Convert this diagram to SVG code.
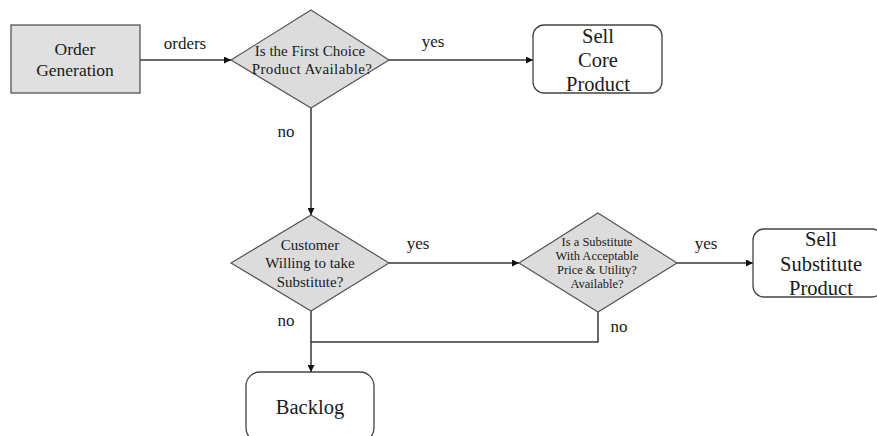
<svg xmlns="http://www.w3.org/2000/svg" width="877" height="436" viewBox="0 0 877 436">
  <style>
    text { fill: #1a1a1a; text-anchor: middle; }
    .box { fill: #e0e0e0; stroke: #555; stroke-width: 1.3; }
    .term { fill: #fff; stroke: #444; stroke-width: 1.3; }
    .dia { fill: #dcdcdc; stroke: #555; stroke-width: 1.2; }
    .edge { fill: none; stroke: #383838; stroke-width: 1.5; }
  </style>
  <defs>
    <marker id="arrow" viewBox="0 0 10 10" refX="10" refY="5" markerWidth="7" markerHeight="7" orient="auto" markerUnits="userSpaceOnUse">
      <path d="M0,0 L10,5 L0,10 z" fill="#111"/>
    </marker>
  </defs>
  <rect width="877" height="436" fill="#fff"/>

  <g id="connectors">
    <line class="edge" x1="140" y1="60" x2="231" y2="60" marker-end="url(#arrow)"/>
    <line class="edge" x1="389" y1="60" x2="533" y2="60" marker-end="url(#arrow)"/>
    <line class="edge" x1="311" y1="108" x2="311" y2="215" marker-end="url(#arrow)"/>
    <line class="edge" x1="389" y1="263" x2="519" y2="263" marker-end="url(#arrow)"/>
    <line class="edge" x1="677" y1="263" x2="753" y2="263" marker-end="url(#arrow)"/>
    <line class="edge" x1="311" y1="311" x2="311" y2="372" marker-end="url(#arrow)"/>
    <polyline class="edge" points="598,312 598,342 311,342"/>
    <text x="185" y="49" font-size="17" font-family="Liberation Serif">orders</text>
    <text x="433" y="47" font-size="17" font-family="Liberation Serif">yes</text>
    <text x="286" y="137" font-size="17" font-family="Liberation Serif">no</text>
    <text x="418" y="249" font-size="17" font-family="Liberation Serif">yes</text>
    <text x="706" y="249" font-size="17" font-family="Liberation Serif">yes</text>
    <text x="286" y="326" font-size="17" font-family="Liberation Serif">no</text>
    <text x="619" y="332" font-size="17" font-family="Liberation Serif">no</text>
  </g>

  <g id="order-generation">
    <rect class="box" x="11" y="25" width="129" height="68"/>
    <text x="75" y="55" font-size="17.5" font-family="Liberation Serif">Order</text>
    <text x="75" y="76" font-size="17.5" font-family="Liberation Serif">Generation</text>
  </g>

  <g id="first-choice">
    <polygon class="dia" points="311,10 389,60 311,108 231,60"/>
    <text x="310" y="56" font-size="15" font-family="Liberation Serif">Is the First Choice</text>
    <text x="312" y="74" font-size="15" font-family="Liberation Serif" letter-spacing="0.4">Product Available?</text>
  </g>

  <g id="sell-core">
    <rect class="term" x="533" y="25" width="129" height="68" rx="11"/>
    <text x="598" y="43" font-size="20.5" font-family="Liberation Serif">Sell</text>
    <text x="598" y="67" font-size="20.5" font-family="Liberation Serif">Core</text>
    <text x="598" y="91" font-size="20.5" font-family="Liberation Serif">Product</text>
  </g>

  <g id="willing-substitute">
    <polygon class="dia" points="311,215 389,263 311,311 231,263"/>
    <text x="310" y="250" font-size="15" font-family="Liberation Serif">Customer</text>
    <text x="310" y="268" font-size="15" font-family="Liberation Serif">Willing to take</text>
    <text x="310" y="287" font-size="15" font-family="Liberation Serif">Substitute?</text>
  </g>

  <g id="substitute-available">
    <polygon class="dia" points="598,213 677,263 598,312 519,263"/>
    <text x="597" y="246" font-size="12.5" font-family="Liberation Serif">Is a Substitute</text>
    <text x="597" y="260" font-size="12.5" font-family="Liberation Serif">With Acceptable</text>
    <text x="597" y="274" font-size="12.5" font-family="Liberation Serif">Price &amp; Utility?</text>
    <text x="597" y="288" font-size="12.5" font-family="Liberation Serif">Available?</text>
  </g>

  <g id="sell-substitute">
    <rect class="term" x="753" y="229" width="130" height="68" rx="11"/>
    <text x="821" y="246" font-size="20.5" font-family="Liberation Serif">Sell</text>
    <text x="821" y="271" font-size="20.5" font-family="Liberation Serif">Substitute</text>
    <text x="821" y="295" font-size="20.5" font-family="Liberation Serif">Product</text>
  </g>

  <g id="backlog">
    <rect class="term" x="246" y="372" width="128" height="70" rx="14"/>
    <text x="310" y="414" font-size="20.5" font-family="Liberation Serif">Backlog</text>
  </g>
</svg>
